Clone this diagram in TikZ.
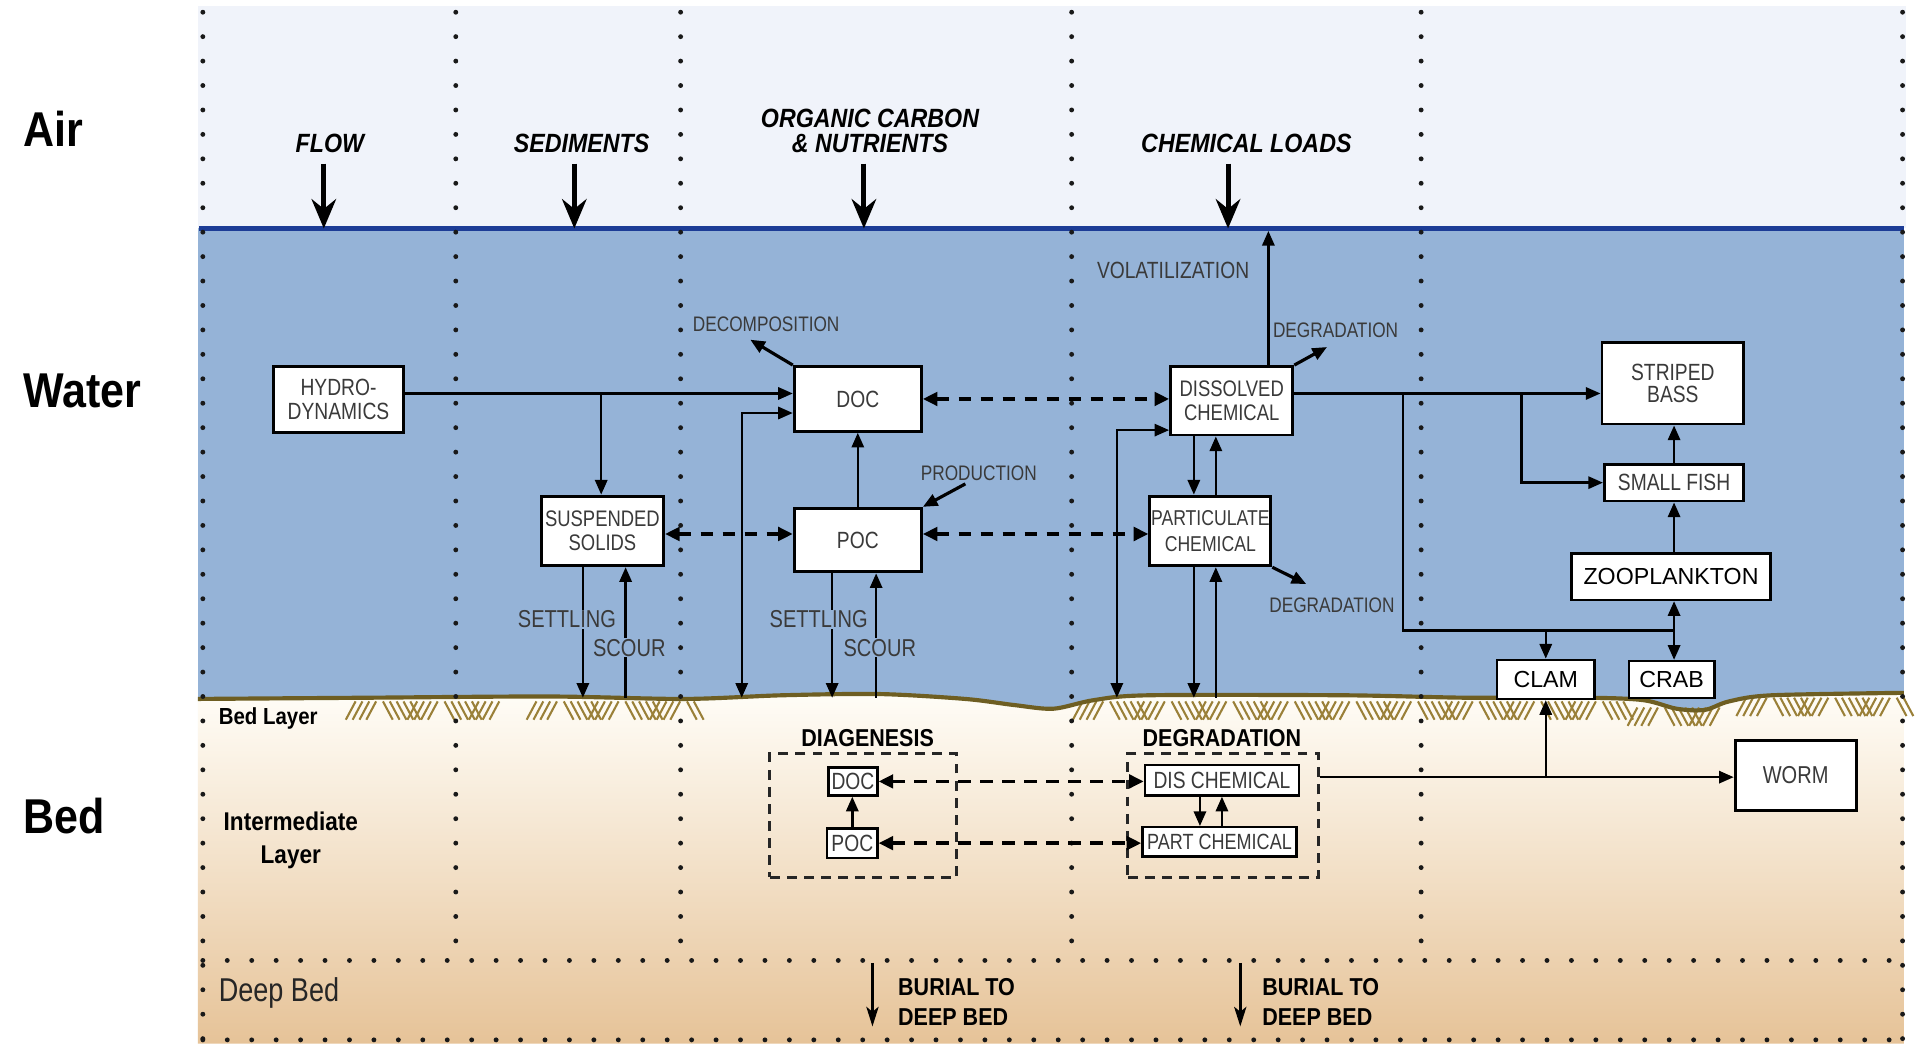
\documentclass[tikz,border=0pt]{standalone}
\usepackage{fontspec}
\setmainfont{Liberation Sans}
\newfontfamily\nf{Liberation Sans}[FakeStretch=0.82]
\newfontfamily\cf{Liberation Sans}[FakeStretch=0.88]
\usetikzlibrary{arrows.meta,calc}
\definecolor{aircol}{HTML}{F0F3FA}
\definecolor{watercol}{HTML}{95B3D7}
\definecolor{surfcol}{HTML}{1C3C96}
\definecolor{bedline}{HTML}{6E5E22}
\definecolor{hatchcol}{HTML}{9A8038}
\definecolor{bedtop}{HTML}{FFFDF7}
\definecolor{bedmid}{HTML}{F8EAD8}
\definecolor{bedbot}{HTML}{E6C398}
\definecolor{boxtext}{HTML}{3A3A3A}
\begin{document}
\begin{tikzpicture}[x=0.5pt,y=-0.5pt,
  box/.style={draw=black, line width=1.2pt, fill=white, align=center, inner sep=0pt, text=boxtext, font=\nf\fontsize{9.6}{9.6}\selectfont},
  bbox/.style={box, line width=1pt},
  pbox/.style={draw=black, line width=1pt, fill=white, align=center, inner sep=0pt, text=black, font=\fontsize{9.5}{10}\selectfont},
  dbox/.style={draw=black!85, line width=1.2pt, dash pattern=on 4pt off 3pt, inner sep=0pt},
  lbl/.style={text=boxtext, font=\nf\fontsize{8.6}{9}\selectfont, inner sep=0.5pt},
  klbl/.style={text=boxtext, font=\nf\fontsize{10}{10}\selectfont, inner sep=0.5pt, fill=watercol},
  conn/.style={line width=1pt, -{Triangle[length=6pt,width=5pt]}},
  bothconn/.style={line width=1pt, {Triangle[length=6pt,width=5pt]}-{Triangle[length=6pt,width=5pt]}},
  dboth/.style={line width=1.5pt, dash pattern=on 5pt off 4pt, {Triangle[length=6pt,width=5.5pt]}-{Triangle[length=6pt,width=5.5pt]}},
  plainline/.style={line width=1pt},
  dotline/.style={line width=2pt, line cap=round, dash pattern=on 0pt off 10pt, draw=black!90},
  loadarrow/.style={line width=2pt, -{Stealth[length=12pt,width=10pt,inset=4pt]}},
  burial/.style={line width=1.1pt, -{Stealth[length=8pt,width=5pt,inset=2pt]}},
  toplbl/.style={font=\cf\bfseries\itshape\fontsize{10.8}{10}\selectfont, align=center},
  sidelbl/.style={font=\cf\bfseries\fontsize{20}{20}\selectfont, anchor=west},
  blbl/.style={font=\cf\bfseries\fontsize{10}{12}\selectfont, align=left, anchor=west},
]
\useasboundingbox (0,0) rectangle (1568,854);
\fill[white] (0,0) rectangle (1568,854);
% backgrounds
\fill[aircol] (162,5) rectangle (1560,187);
\fill[watercol] (162,187) rectangle (1558,590);
\shade[top color=bedtop, middle color=bedmid, bottom color=bedbot] (162,854) -- (162,572) -- plot[smooth] coordinates {(162,572) (300,571) (450,570) (560,572) (640,569) (720,568) (790,572) (830,577) (862,580) (895,573) (940,569) (1100,569) (1200,571) (1300,571) (1345,573) (1372,580) (1395,581) (1415,574) (1450,569) (1558,567)} -- (1558,854) -- cycle;
% hatching
\foreach \a/\nn/\yy in {291/21/574, 439/23/574, 886/79/574, 1340/12/579, 1429/23/571}{
  \foreach \i in {0,...,\nn}{
    \pgfmathsetmacro\xx{\a+5.6*\i}
    \pgfmathsetmacro\xe{mod(\i,9)<4 ? \xx-8 : \xx+8}
    \draw[hatchcol, line width=0.85pt] (\xx,\yy) -- (\xe,\yy+15);
  }
}
\draw[bedline, line width=1.7pt] plot[smooth] coordinates {(162,572) (300,571) (450,570) (560,572) (640,569) (720,568) (790,572) (830,577) (862,580) (895,573) (940,569) (1100,569) (1200,571) (1300,571) (1345,573) (1372,580) (1395,581) (1415,574) (1450,569) (1558,567)};
\draw[surfcol, line width=2.2pt] (163,187) -- (1558,187);
% dotted grid
\foreach \x in {373,557,877,1163} \draw[dotline] (\x,10) -- (\x,786);
\draw[dotline] (166,10) -- (166,852);
\draw[dotline] (1557,10) -- (1557,852);
\draw[dotline] (166,786) -- (1557,786);
\draw[dotline] (166,851) -- (1557,851);

% side labels
\node[sidelbl] (air) at (12,105) {Air};
\node[sidelbl] (water) at (12,320) {Water};
\node[sidelbl] (bed) at (12,668) {Bed};

% top loads
\node[toplbl] (flowl) at (270,117) {FLOW};
\node[toplbl] (sedl) at (476,117) {SEDIMENTS};
\node[toplbl] (ocl) at (712,107) {ORGANIC CARBON\\\& NUTRIENTS};
\node[toplbl] (chl) at (1020,117) {CHEMICAL LOADS};
\foreach \n/\x in {fl/265, se/470, oc/707, ch/1005}{
  \coordinate (\n a) at (\x,134);
  \coordinate (\n b) at (\x,187);
  \draw[loadarrow] (\n a) -- (\n b);
}

% boxes
\node[box, minimum width=53pt, minimum height=27pt] (hydro) at (277,327) {HYDRO-\\DYNAMICS};
\node[box, minimum width=52pt, minimum height=26.5pt] (doc) at (702,326.5) {DOC};
\node[box, minimum width=52pt, minimum height=26pt] (poc) at (702,442) {POC};
\node[box, minimum width=50pt, minimum height=28.5pt, font=\nf\fontsize{9.2}{9.6}\selectfont] (ss) at (493,434.5) {SUSPENDED\\SOLIDS};
\node[box, minimum width=50pt, minimum height=28pt, font=\nf\fontsize{9.2}{9.6}\selectfont] (dc) at (1008,328) {DISSOLVED\\CHEMICAL};
\node[box, minimum width=49.5pt, minimum height=28.5pt, font=\nf\fontsize{8.8}{10.5}\selectfont] (pc) at (990.5,434.5) {PARTICULATE\\CHEMICAL};
\node[box, minimum width=58pt, minimum height=33.5pt, font=\nf\fontsize{9.6}{9}\selectfont] (sb) at (1369,313.5) {STRIPED\\BASS};
\node[box, minimum width=57pt, minimum height=15pt] (sf) at (1370,395) {SMALL FISH};
\node[pbox, minimum width=81.5pt, minimum height=19pt] (zoo) at (1367.5,472) {ZOOPLANKTON};
\node[pbox, minimum width=40pt, minimum height=16pt] (clam) at (1265,556) {CLAM};
\node[pbox, minimum width=35pt, minimum height=15pt] (crab) at (1368,556) {CRAB};
\node[box, minimum width=49.5pt, minimum height=28.5pt, font=\nf\fontsize{10}{10}\selectfont] (worm) at (1469.5,634.5) {WORM};

% bed boxes
\node[dbox, minimum width=76.5pt, minimum height=50.5pt] (diag) at (706.5,667.5) {};
\node[dbox, minimum width=78pt, minimum height=50.5pt] (degr) at (1001,667.5) {};
\node[blbl, anchor=center] (diagl) at (710,604) {DIAGENESIS};
\node[blbl, anchor=center] (degrl) at (1000,604) {DEGRADATION};
\node[bbox, minimum width=20pt, minimum height=11.5pt] (bdoc) at (698,639.5) {DOC};
\node[bbox, minimum width=20.5pt, minimum height=12pt] (bpoc) at (697.5,690) {POC};
\node[bbox, minimum width=63pt, minimum height=12.5pt] (bdis) at (1000,638.5) {DIS CHEMICAL};
\node[bbox, minimum width=63pt, minimum height=12pt, font=\nf\fontsize{9}{9}\selectfont] (bpart) at (998,689) {PART CHEMICAL};

% hydrodynamics
\coordinate (j1) at (492,322);
\draw[conn] (hydro.east |- j1) -- (j1 -| doc.west);
\draw[conn] (j1) -- (j1 |- ss.north);
% bed <-> doc
\coordinate (b1) at (607,571);
\coordinate (k1) at (607,338);
\draw[bothconn] (b1) -- (k1) -- (k1 -| doc.west);
% doc <-> dc
\draw[dboth] (doc.east) -- (doc.east -| dc.west);
% poc -> doc
\draw[conn] (poc.north) -- (doc.south);
% decomposition
\node[lbl] (decl) at (627,265) {DECOMPOSITION};
\coordinate (dect) at (614,278);
\draw[conn, line width=1.3pt] (doc.north west) -- (dect);
% production
\node[lbl] (prodl) at (801,387) {PRODUCTION};
\coordinate (prods) at (790,396);
\draw[conn, line width=1.3pt] (prods) -- (poc.north east);
% ss <-> poc <-> pc
\coordinate (dy) at (0,437);
\draw[dboth] (ss.east |- dy) -- (poc.west |- dy);
\draw[dboth] (poc.east |- dy) -- (pc.west |- dy);
% settling / scour (solids)
\coordinate (s1) at (477,571);
\coordinate (s2) at (512,571);
\draw[conn] (s1 |- ss.south) -- (s1);
\draw[conn] (s2) -- (s2 |- ss.south);
\node[klbl] (set1) at (464,507) {SETTLING};
\node[klbl] (sco1) at (515,530) {SCOUR};
% settling / scour (poc)
\coordinate (s3) at (681,571);
\coordinate (s4) at (717,571);
\draw[conn] (s3 |- poc.south) -- (s3);
\draw[conn] (s4) -- (s4 |- poc.south);
\node[klbl] (set2) at (670,507) {SETTLING};
\node[klbl] (sco2) at (720,530) {SCOUR};
% volatilization
\coordinate (vol) at (1038,189);
\draw[conn] (vol |- dc.north) -- (vol);
\node[lbl, font=\nf\fontsize{9.6}{10}\selectfont] (voll) at (960,221) {VOLATILIZATION};
% degradation
\coordinate (deg1) at (1086,284);
\draw[conn, line width=1.3pt] (dc.north east) -- (deg1);
\node[lbl] (degl1) at (1093,270) {DEGRADATION};
\coordinate (deg2) at (1069,478);
\draw[conn, line width=1.3pt] (pc.south east) -- (deg2);
\node[lbl] (degl2) at (1090,495) {DEGRADATION};
% dc <-> pc <-> bed
\coordinate (xa) at (977,0);
\coordinate (xb) at (995,0);
\draw[conn] (xa |- dc.south) -- (xa |- pc.north);
\draw[conn] (xb |- pc.north) -- (xb |- dc.south);
\coordinate (b3) at (977,571);
\coordinate (b4) at (995,571);
\draw[conn] (b3 |- pc.south) -- (b3);
\draw[conn] (b4) -- (b4 |- pc.south);
\coordinate (b2) at (914,571);
\coordinate (k2) at (914,352);
\draw[bothconn] (b2) -- (k2) -- (k2 -| dc.west);
% food web
\coordinate (ja) at (1148,322);
\coordinate (jb) at (1245,322);
\draw[conn] (dc.east |- ja) -- (ja -| sb.west);
\draw[conn] (jb) -- (jb |- sf.west) -- (sf.west);
\coordinate (jc) at (1148,516);
\coordinate (jd) at (1370,516);
\coordinate (je) at (1265,516);
\draw[plainline] (ja) -- (jc) -- (jd);
\draw[conn] (je) -- (clam.north);
\draw[conn] (jd) -- (jd |- crab.north);
\draw[conn] (jd) -- (jd |- zoo.south);
\draw[conn] (sf.north) -- (sf.north |- sb.south);
\draw[conn] (sf.south |- zoo.north) -- (sf.south);
% bed exchanges
\draw[dboth] (bdoc.east) -- (bdoc.east -| bdis.west);
\draw[dboth] (bpoc.east) -- (bpoc.east -| bpart.west);
\draw[conn] (bpoc.north) -- (bpoc.north |- bdoc.south);
\coordinate (xc) at (982,0);
\coordinate (xd) at (1000,0);
\draw[conn] (xc |- bdis.south) -- (xc |- bpart.north);
\draw[conn] (xd |- bpart.north) -- (xd |- bdis.south);
% worm
\coordinate (jf) at (1265,636);
\draw[conn] (degr.east |- jf) -- (worm.west |- jf);
\draw[conn] (jf) -- (clam.south);
% burial
\coordinate (bu1) at (714,788);
\coordinate (bu2) at (714,840);
\draw[burial] (bu1) -- (bu2);
\node[blbl] (bul1) at (728,820) {BURIAL TO\\DEEP BED};
\coordinate (bu3) at (1015,788);
\coordinate (bu4) at (1015,840);
\draw[burial] (bu3) -- (bu4);
\node[blbl] (bul2) at (1026,820) {BURIAL TO\\DEEP BED};
% layer labels
\node[font=\cf\bfseries\fontsize{9.5}{10}\selectfont, anchor=west] (bedlayer) at (172,588) {Bed Layer};
\node[font=\cf\bfseries\fontsize{10.5}{13.5}\selectfont, align=center] (interl) at (238,688) {Intermediate\\Layer};
\node[font=\nf\fontsize{13.5}{14}\selectfont, anchor=west, text=black!85] (deepl) at (172,813) {Deep Bed};
\end{tikzpicture}
\end{document}
